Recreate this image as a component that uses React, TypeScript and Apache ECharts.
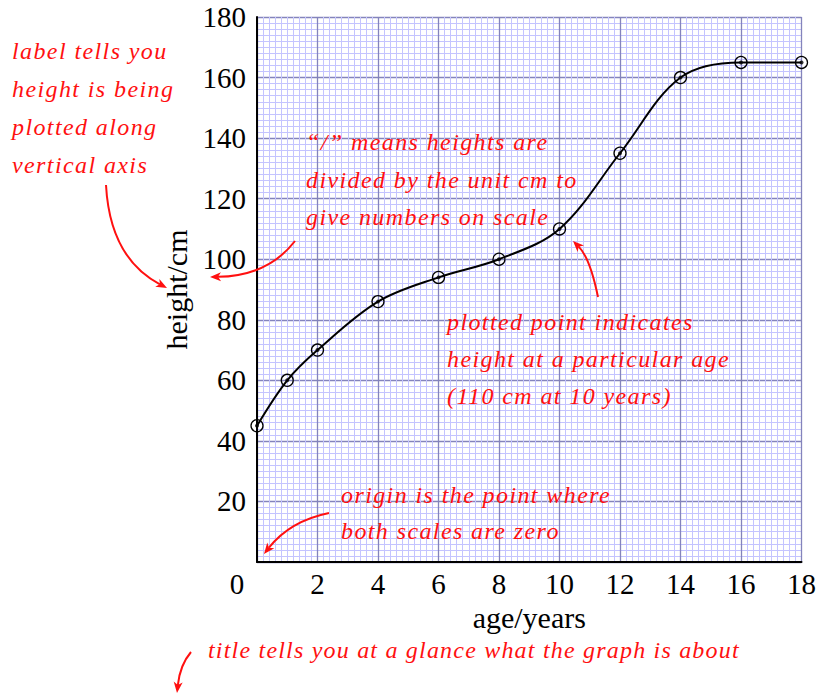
import React, { useEffect, useRef } from "react";
import * as echarts from "echarts";

const ages = [0, 1, 2, 4, 6, 8, 10, 12, 14, 16, 18];
const heights = [45, 60, 70, 86, 94, 100, 110, 135, 160, 165, 165];
const xName = "age/years";
const yName = "height/cm";
const originLabel = "0";

const note1 = ["label tells you", "height is being", "plotted along", "vertical axis"];
const note2 = ["\u201c/\u201d means heights are", "divided by the unit cm to", "give numbers on scale"];
const note3 = ["plotted point indicates", "height at a particular age", "(110 cm at 10 years)"];
const note4 = ["origin is the point where", "both scales are zero"];
const note5 = ["title tells you at a glance what the graph is about"];

const RED = "#ff1010";
const SERIF = "Liberation Serif";

function noteTexts(lines: string[], x: number, y0: number, dy: number) {
  return lines.map((t, i) => ({
    type: "text",
    x,
    y: y0 + i * dy,
    z: 100,
    style: {
      text: t,
      fill: RED,
      fontSize: 24,
      fontStyle: "italic",
      fontFamily: SERIF,
      textVerticalAlign: "middle",
      textAlign: "left",
    },
    silent: true,
  }));
}

function arrow(x1: number, y1: number, cx: number, cy: number, x2: number, y2: number) {
  const dx = x2 - cx;
  const dy = y2 - cy;
  const len = Math.sqrt(dx * dx + dy * dy) || 1;
  const ux = dx / len;
  const uy = dy / len;
  const L = 11;
  const W = 4.5;
  const bx = x2 - ux * L;
  const by = y2 - uy * L;
  const px = -uy;
  const py = ux;
  return {
    type: "group",
    silent: true,
    z: 100,
    children: [
      {
        type: "bezierCurve",
        z: 100,
        shape: { x1, y1, cpx1: cx, cpy1: cy, x2: bx + ux * 3, y2: by + uy * 3 },
        style: { stroke: RED, lineWidth: 2, fill: "none" },
      },
      {
        type: "polygon",
        z: 100,
        shape: {
          points: [
            [x2, y2],
            [bx + px * W, by + py * W],
            [bx + ux * 3, by + uy * 3],
            [bx - px * W, by - py * W],
          ],
        },
        style: { fill: RED },
      },
    ],
  };
}

const MAJOR = "#8484bc";
const MINOR = "#c4c4ff";

export default function App() {
  const ref = useRef<HTMLDivElement>(null);
  useEffect(() => {
    if (!ref.current) return;
    const chart = echarts.init(ref.current, null, { renderer: "svg" });
    const pts = ages.map((a, i) => [a, heights[i]]);
    chart.setOption({
      animation: false,
      backgroundColor: "#ffffff",
      grid: { left: 257, top: 17, width: 546, height: 545, containLabel: false },
      xAxis: {
        type: "value",
        min: 0,
        max: 18,
        interval: 2,
        name: xName,
        nameLocation: "middle",
        nameGap: 39,
        nameTextStyle: { fontFamily: SERIF, fontSize: 30, color: "#000" },
        axisLine: { show: true, onZero: false, lineStyle: { color: "#000", width: 2 } },
        axisTick: { show: false },
        axisLabel: {
          fontFamily: SERIF,
          fontSize: 29,
          color: "#000",
          margin: 7,
          formatter: (v: number) => (v === 0 ? "" : String(v)),
        },
        splitLine: { show: true, lineStyle: { color: MAJOR, width: 1.3 } },
        minorTick: { show: false, splitNumber: 10 },
        minorSplitLine: { show: true, lineStyle: { color: MINOR, width: 1 } },
        z: 1,
      },
      yAxis: {
        type: "value",
        min: 0,
        max: 180,
        interval: 20,
        name: yName,
        nameLocation: "middle",
        nameGap: 60,
        nameRotate: 90,
        nameTextStyle: { fontFamily: SERIF, fontSize: 30, color: "#000" },
        axisLine: { show: true, onZero: false, lineStyle: { color: "#000", width: 2 } },
        axisTick: { show: false },
        axisLabel: {
          fontFamily: SERIF,
          fontSize: 29,
          color: "#000",
          margin: 11,
          formatter: (v: number) => (v === 0 ? "" : String(v)),
        },
        splitLine: { show: true, lineStyle: { color: MAJOR, width: 1.3 } },
        minorTick: { show: false, splitNumber: 10 },
        minorSplitLine: { show: true, lineStyle: { color: MINOR, width: 1 } },
        z: 1,
      },
      series: [
        {
          type: "line",
          data: pts,
          smooth: 0.35,
          symbol: "circle",
          symbolSize: 12,
          itemStyle: { color: "rgba(0,0,0,0)", borderColor: "#000", borderWidth: 1.3 },
          lineStyle: { color: "#000", width: 2 },
          z: 3,
        },
        {
          type: "scatter",
          data: pts,
          symbol: "circle",
          symbolSize: 4,
          itemStyle: { color: "#000" },
          z: 4,
        },
      ],
      graphic: [
        {
          type: "text",
          x: 237,
          y: 584,
          z: 100,
          silent: true,
          style: {
            text: originLabel,
            fontFamily: SERIF,
            fontSize: 29,
            fill: "#000",
            textAlign: "center",
            textVerticalAlign: "middle",
          },
        },
        ...noteTexts(note1, 12, 51, 38),
        ...noteTexts(note2, 306, 142, 37.5),
        ...noteTexts(note3, 447, 322, 37),
        ...noteTexts(note4, 341, 495, 36),
        ...noteTexts(note5, 208, 650, 36),
        arrow(106, 185, 110, 258, 167, 288),
        arrow(295, 241, 268, 276, 210, 277),
        arrow(598, 297, 590, 258, 573, 241),
        arrow(329, 513, 290, 521, 264, 554),
        arrow(191, 652, 180, 665, 177, 693),
      ],
    });
    const texts = ref.current.querySelectorAll("text");
    texts.forEach((t) => {
      const st = (t.getAttribute("style") || "") + (t.getAttribute("font-style") || "");
      if (st.indexOf("italic") >= 0) {
        const s = t.textContent || "";
        (t as SVGTextElement).style.letterSpacing = s.length > 40 ? "1.2px" : "1.4px";
      }
    });
    return () => chart.dispose();
  }, []);
  return (
    <div
      ref={ref}
      style={{ position: "fixed", left: 0, top: 0, width: 819, height: 694 }}
    />
  );
}
